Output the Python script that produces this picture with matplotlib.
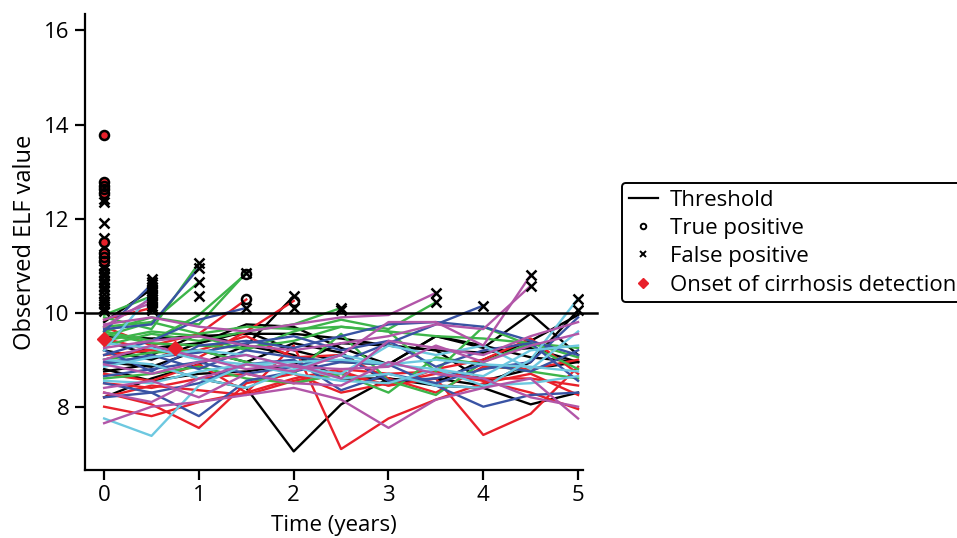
import matplotlib.pyplot as plt
from matplotlib.lines import Line2D

plt.rcParams['font.family'] = ['Open Sans', 'DejaVu Sans']

# measurement times (years)
times = [0, 0.5, 1, 1.5, 2, 2.5, 3, 3.5, 4, 4.5, 5]
threshold = 10

K = 'black'
R = '#e8202a'
G = '#3db54a'
B = '#3953a4'
C = '#6dc8e0'
P = '#b256a8'

# one entry per patient: colour, ELF values (stop when threshold is crossed), end marker
traj_color = [
    K, K, K, K, K, K, K, K, K,
    R, R, R, R, R, R, R, R, R,
    G, G, G, G, G, G, G, G, G, G, G,
    B, B, B, B, B, B, B, B, B,
    C, C, C, C, C, C,
    P, P, P, P, P, P, P, P, P,
]
traj_vals = [
    [8.75, 8.9, 8.6, 8.4, 7.05, 8.05, 8.6, 8.45, 8.4, 8.05, 8.3],
    [9.5, 9.45, 9.5, 9.55, 9.55, 9.45, 9.3, 9.2, 9.15, 9.25, 8.95],
    [8.95, 8.85, 9.2, 8.95, 9.35, 9.15, 8.5, 8.6, 8.45, 8.95, 10.05],
    [9.0, 9.25, 9.35, 9.75, 9.7, 9.25, 8.9, 9.5, 9.25, 9.98, 9.1],
    [8.2, 8.6, 8.9, 9.3, 9.1, 8.6, 8.6, 8.5, 9.0, 9.4, 9.95],
    [9.4, 9.1, 9.55, 9.3, 10.35],
    [8.8, 8.55, 8.7, 8.75, 8.9, 9.35, 9.3, 9.2, 8.55, 8.8, 8.95],
    [9.2, 9.0, 9.35, 9.6, 9.2, 8.95, 8.9, 9.5, 9.3, 9.05, 8.95],
    [9.8, 10.5],
    [8.3, 8.05, 7.55, 8.5, 8.7, 8.3, 8.5, 8.7, 8.55, 8.3, 7.95],
    [8.0, 7.8, 8.1, 8.3, 9.3, 7.1, 7.75, 8.15, 8.5, 8.7, 8.25],
    [8.5, 8.4, 8.6, 8.7, 8.5, 8.7, 8.45, 8.6, 7.4, 7.85, 8.85],
    [9.7, 9.3, 9.55, 10.28],
    [9.45, 9.2, 9.2, 9.5, 9.05, 9.1, 8.6, 8.3, 8.85, 8.8, 9.0],
    [8.7, 8.55, 8.9, 8.3, 8.6, 8.8, 8.7, 8.75, 8.6, 8.6, 8.45],
    [9.1, 9.2, 9.05, 9.6, 10.25],
    [8.2, 8.45, 8.35, 8.25, 8.55, 8.75, 8.45, 8.8, 9.0, 9.45, 8.7],
    [9.85, 10.1],
    [9.9, 9.65, 11.05],
    [9.6, 9.4, 9.95, 10.83],
    [9.5, 9.8, 10.65],
    [9.3, 9.55, 9.4, 9.6, 9.75, 10.1],
    [9.0, 9.15, 9.2, 8.95, 8.7, 9.55, 8.55, 8.25, 8.95, 9.35, 9.05],
    [9.55, 9.35, 9.3, 9.25, 9.4, 9.7, 9.6, 8.75, 9.7, 9.3, 8.8],
    [8.6, 8.7, 8.85, 8.6, 8.5, 8.7, 8.3, 9.05, 8.9, 8.75, 8.6],
    [9.4, 9.6, 9.5, 9.2, 9.6, 9.85, 9.65, 10.22],
    [9.7, 9.8, 9.55, 9.7, 9.65, 9.7, 9.6, 9.5, 9.45, 9.35, 9.25],
    [9.95, 10.35],
    [9.6, 9.9, 9.75, 10.85],
    [9.65, 9.75, 10.95],
    [8.9, 9.1, 8.8, 9.2, 9.05, 8.95, 9.35, 9.75, 10.15],
    [8.2, 8.3, 8.5, 8.9, 9.0, 8.35, 8.7, 8.5, 8.8, 8.95, 9.9],
    [8.5, 8.3, 7.8, 8.55, 8.75, 8.95, 8.9, 8.45, 8.0, 8.25, 8.3],
    [9.2, 8.75, 9.3, 9.4, 9.25, 9.5, 9.75, 9.8, 9.7, 9.4, 9.1],
    [8.95, 9.05, 9.15, 9.35, 9.5, 9.2, 9.4, 8.85, 9.2, 9.35, 8.55],
    [9.1, 9.4, 9.85, 10.1],
    [8.65, 8.8, 8.95, 8.7, 8.85, 9.1, 8.55, 8.6, 8.9, 8.75, 9.2],
    [9.6, 10.6],
    [7.75, 7.38, 8.45, 8.9, 8.85, 8.6, 8.7, 8.45, 8.4, 9.0, 10.3],
    [9.2, 10.4],
    [8.55, 8.5, 8.75, 8.9, 8.7, 8.55, 8.5, 8.8, 8.65, 9.2, 9.3],
    [9.35, 9.25, 9.0, 8.9, 8.95, 9.0, 8.9, 9.0, 8.9, 8.85, 8.75],
    [8.85, 9.05, 9.2, 9.1, 8.85, 8.7, 9.3, 9.1, 9.3, 8.8, 9.6],
    [9.0, 8.9, 8.6, 8.4, 8.8, 9.1, 8.9, 8.8, 8.45, 8.5, 8.65],
    [7.65, 8.0, 8.1, 8.25, 8.4, 8.15, 7.55, 8.15, 8.4, 8.6, 7.75],
    [8.3, 8.1, 8.6, 8.9, 8.75, 9.1, 9.8, 9.8, 9.3, 10.8],
    [9.25, 9.4, 9.5, 9.3, 9.2, 9.35, 9.5, 9.75, 9.65, 10.57],
    [9.75, 9.9, 9.7, 9.6, 9.75, 9.9, 9.95, 10.42],
    [8.4, 8.55, 8.2, 8.7, 8.5, 8.45, 8.95, 8.7, 8.6, 8.2, 8.0],
    [9.0, 9.3, 9.05, 8.8, 8.9, 8.6, 9.4, 9.25, 9.1, 9.5, 9.8],
    [9.85, 10.2],
    [8.9, 8.7, 8.95, 9.1, 8.85, 8.8, 8.85, 9.3, 8.95, 9.3, 9.55],
    [9.7, 10.3],
]
traj_end = [
    '', '', 'x', '', '', 'x', '', '', 'x',
    '', '', '', 'o', '', '', 'o', '', 'x',
    'x', 'o', 'x', 'x', '', '', '', 'x', '', 'x', 'x',
    'x', 'x', '', '', '', '', 'x', '', 'x',
    'x', 'x', '', '', '', '',
    '', 'x', 'x', 'x', '', '', 'x', '', 'x',
]

# patients already above threshold at first visit
t0_fp = [12.42, 12.36, 11.9, 11.58, 11.42, 11.0, 10.92, 10.85, 10.78, 10.7, 10.62,
         10.55, 10.48, 10.4, 10.32, 10.25, 10.18, 10.1, 10.04]
t0_tp = [13.78, 12.78, 12.7, 12.62, 12.54, 11.5, 11.27, 11.18, 11.1]

# extra false positives in the 6-month cluster
fp_extra_t = [0.5, 0.5, 0.5, 0.5, 0.5, 0.5, 0.5, 1, 2, 2.5]
fp_extra_v = [10.05, 10.15, 10.25, 10.45, 10.55, 10.65, 10.72, 10.35, 10.1, 10.05]

# onset of cirrhosis detection
onset_t = [0, 0.75]
onset_v = [9.45, 9.25]

fig = plt.figure(figsize=(9.57, 5.38), dpi=100)
ax = fig.add_axes([0.089, 0.126, 0.52, 0.848])

for col, vals in zip(traj_color, traj_vals):
    ax.plot(times[:len(vals)], vals, color=col, lw=1.7, zorder=2)

ax.plot([-0.2, 5.2], [threshold, threshold], color='black', lw=1.8, clip_on=False, zorder=3)

for vals, end in zip(traj_vals, traj_end):
    t_end = times[len(vals) - 1]
    if end == 'x':
        ax.plot(t_end, vals[-1], 'x', color='black', ms=7, mew=1.8, zorder=4)
    elif end == 'o':
        ax.plot(t_end, vals[-1], 'o', mfc='none', mec='black', ms=6.5, mew=1.8, zorder=4)

ax.plot([0] * len(t0_fp), t0_fp, 'x', color='black', ms=7, mew=1.8, zorder=4)
ax.plot(fp_extra_t, fp_extra_v, 'x', color='black', ms=7, mew=1.8, zorder=4)
ax.plot([0] * len(t0_tp), t0_tp, 'D', color=R, ms=5.5, zorder=4)
ax.plot([0] * len(t0_tp), t0_tp, 'o', mfc='none', mec='black', ms=6.5, mew=1.8, zorder=5)
ax.plot(onset_t, onset_v, 'D', color=R, ms=7, zorder=5)

ax.set_xlim(-0.2, 5.05)
ax.set_ylim(6.65, 16.35)
ax.set_xticks([0, 1, 2, 3, 4, 5])
ax.set_yticks([8, 10, 12, 14, 16])
ax.spines['top'].set_visible(False)
ax.spines['right'].set_visible(False)
ax.spines['left'].set_linewidth(1.6)
ax.spines['bottom'].set_linewidth(1.6)
ax.tick_params(labelsize=16, length=7, width=1.6, pad=4)
ax.set_xlabel('Time (years)', fontsize=16, labelpad=6)
ax.set_ylabel('Observed ELF value', fontsize=17, labelpad=5)

handles = [
    Line2D([], [], color='black', lw=1.6),
    Line2D([], [], ls='none', marker='o', mfc='none', mec='black', ms=4, mew=1.4),
    Line2D([], [], ls='none', marker='x', color='black', ms=5, mew=1.4),
    Line2D([], [], ls='none', marker='D', color=R, ms=5),
]
labels = ['Threshold', 'True positive', 'False positive', 'Onset of cirrhosis detection']
leg = fig.legend(handles, labels, loc='upper left', bbox_to_anchor=(0.65, 0.66),
                 borderaxespad=0, fontsize=16, frameon=True, fancybox=True,
                 handlelength=1.3, labelspacing=0.33, borderpad=0.3, handletextpad=0.55)
leg.get_frame().set_edgecolor('black')
leg.get_frame().set_linewidth(1.4)
leg.get_frame().set_alpha(1)

fig.savefig('out.png', dpi=100)
